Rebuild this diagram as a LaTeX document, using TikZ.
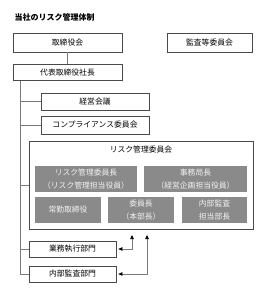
\documentclass[tikz,border=0pt]{standalone}
\usepackage{fontspec}
\setmainfont{Noto Sans CJK JP}
\usepackage{xcolor}
\usetikzlibrary{arrows.meta, positioning}

\definecolor{framegray}{HTML}{4A4A4A}
\definecolor{wiregray}{HTML}{7A7A7A}
\definecolor{cellgray}{HTML}{8A8A8A}

\begin{document}
\begin{tikzpicture}[x=1pt, y=-1pt, font=\fontsize{7.8}{12.5}\selectfont,
  orgbox/.style={draw=framegray, line width=0.7pt, fill=white, inner sep=0pt, align=center},
  cell/.style={fill=cellgray, text=white!95!black, inner sep=0pt, align=center},
  wire/.style={draw=wiregray, line width=0.7pt},
  tip/.style={{Triangle[length=4pt,width=3.5pt,color=black]}-{Triangle[length=4pt,width=3.5pt,color=black]}}]
	\useasboundingbox (0,0) rectangle (265,300);
	% Title:
	\node[anchor=west, font=\fontsize{8}{9}\selectfont\bfseries](title) at (11, 17){当社のリスク管理体制};
	% Top row:
	\node[orgbox, minimum width=109pt, minimum height=19pt](torishimari) at (67.5, 42.5){取締役会};
	\node[orgbox, minimum width=85pt, minimum height=19pt](kansa) at (209.5, 42.5){監査等委員会};
	\node[orgbox, minimum width=109pt, minimum height=16pt](shacho) at (67.5, 72.5){代表取締役社長};
	% Committees:
	\node[orgbox, minimum width=108pt, minimum height=17pt](keiei) at (95, 101.5){経営会議};
	\node[orgbox, minimum width=108pt, minimum height=18pt](comp) at (95, 125){コンプライアンス委員会};
	\node[orgbox, minimum width=224pt, minimum height=88pt](risk) at (141, 185){};
	\node(risktitle) at (141, 150){リスク管理委員会};
	\node[cell, minimum width=102pt, minimum height=26pt](chair) at (86, 179){リスク管理委員長\\（リスク管理担当役員）};
	\node[cell, minimum width=103pt, minimum height=26pt](office) at (195.5, 179){事務局長\\（経営企画担当役員）};
	\node[cell, minimum width=66pt, minimum height=26pt](jokin) at (68, 210){常勤取締役};
	\node[cell, minimum width=66pt, minimum height=26pt](member) at (141, 210){委員長\\（本部長）};
	\node[cell, minimum width=65pt, minimum height=26pt](audit) at (214.5, 210){内部監査\\担当部長};
	% Departments:
	\node[orgbox, minimum width=87pt, minimum height=16pt](gyomu) at (72.5, 249){業務執行部門};
	\node[orgbox, minimum width=87pt, minimum height=16pt](naibu) at (72.5, 274){内部監査部門};
	% Wires:
	\draw[wire] (torishimari) -- (shacho);
	\coordinate (trunk) at ([xshift=7.5pt]shacho.south west);
	\foreach \n in {keiei, comp, risk, gyomu, naibu}
		\draw[wire] (trunk) |- (\n.west);
	\coordinate (up1) at (132, 235);
	\coordinate (up2) at (147, 235);
	\draw[wire, tip] (up1) |- ([xshift=2pt]gyomu.east);
	\draw[wire, tip] (up2) |- ([xshift=2pt]naibu.east);
\end{tikzpicture}
\end{document}
